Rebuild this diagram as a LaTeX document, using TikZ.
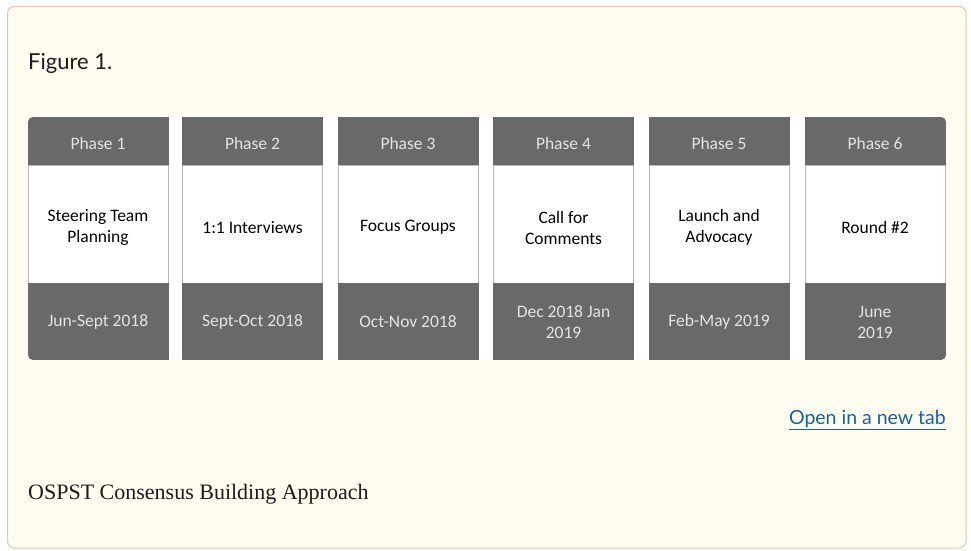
\documentclass[tikz,border=0pt]{standalone}
\usepackage{fontspec}
\setmainfont{Carlito}
\newfontfamily\figfont{Lato}
\newfontfamily\capfont{Liberation Serif}
\definecolor{bgcream}{HTML}{FFFDF0}
\definecolor{bordersal}{HTML}{EBC3AC}
\definecolor{bandgray}{HTML}{696969}
\definecolor{bandtext}{HTML}{E4E4E4}
\definecolor{linkblue}{HTML}{1A5F9E}
\definecolor{captext}{HTML}{1B1B1B}
\begin{document}
\begin{tikzpicture}[x=1pt,y=-1pt,
  band/.style={fill=bandgray, draw=none, inner sep=0pt, minimum width=141pt},
  hdr/.style={band, minimum height=48pt},
  ftr/.style={band, minimum height=77pt},
  mid/.style={fill=white, draw=black!28, line width=0.8pt, inner sep=0pt,
    minimum width=140pt, minimum height=118pt},
  coltext/.style={inner sep=0pt, align=center, font=\fontsize{17.5}{21}\selectfont},
  bandlabel/.style={coltext, text=bandtext},
  midlabel/.style={coltext, text=black}]
\useasboundingbox (0,0) rectangle (971,551);
\fill[white] (0,0) rectangle (971,551);
\draw[fill=bgcream, draw=bordersal, line width=1pt, rounded corners=7pt] (7.5,6.5) rectangle (966,548);
\node[anchor=west, font=\figfont\fontsize{22}{26}\selectfont, text=captext, inner sep=0pt] (fig) at (28,63) {Figure 1.};
\fill[white, rounded corners=5pt] (28,117) rectangle (946,360);
\begin{scope}
\clip[rounded corners=5pt] (28,117) rectangle (946,360);
\foreach \i/\x/\mtext/\dtext in {
  1/98/{Steering Team\\Planning}/{Jun-Sept 2018},
  2/252.5/{1:1 Interviews}/{Sept-Oct 2018},
  3/408/{Focus Groups}/{Oct-Nov 2018},
  4/563.5/{Call for\\Comments}/{Dec 2018 Jan\\2019},
  5/719/{Launch and\\Advocacy}/{Feb-May 2019},
  6/875/{Round \#2}/{June\\2019}}{
  \node[mid] (m\i) at (\x,224) {};
  \node[hdr] (h\i) at (\x,141) {};
  \node[ftr] (d\i) at (\x,321.5) {};
  \node[bandlabel] (ht\i) at (\x,143) {Phase \i};
  \node[midlabel] (mt\i) at (\x,227.5) {\mtext};
  \node[bandlabel] (dt\i) at (\x,322) {\dtext};
}
\end{scope}
\node[anchor=east, font=\figfont\fontsize{19.5}{24}\selectfont, text=linkblue, inner sep=0pt] (link) at (946,420) {\underline{Open in a new tab}};
\node[anchor=west, font=\capfont\fontsize{22}{26}\selectfont, text=captext, inner sep=0pt] (cap) at (28,494) {OSPST Consensus Building Approach};
\end{tikzpicture}
\end{document}
